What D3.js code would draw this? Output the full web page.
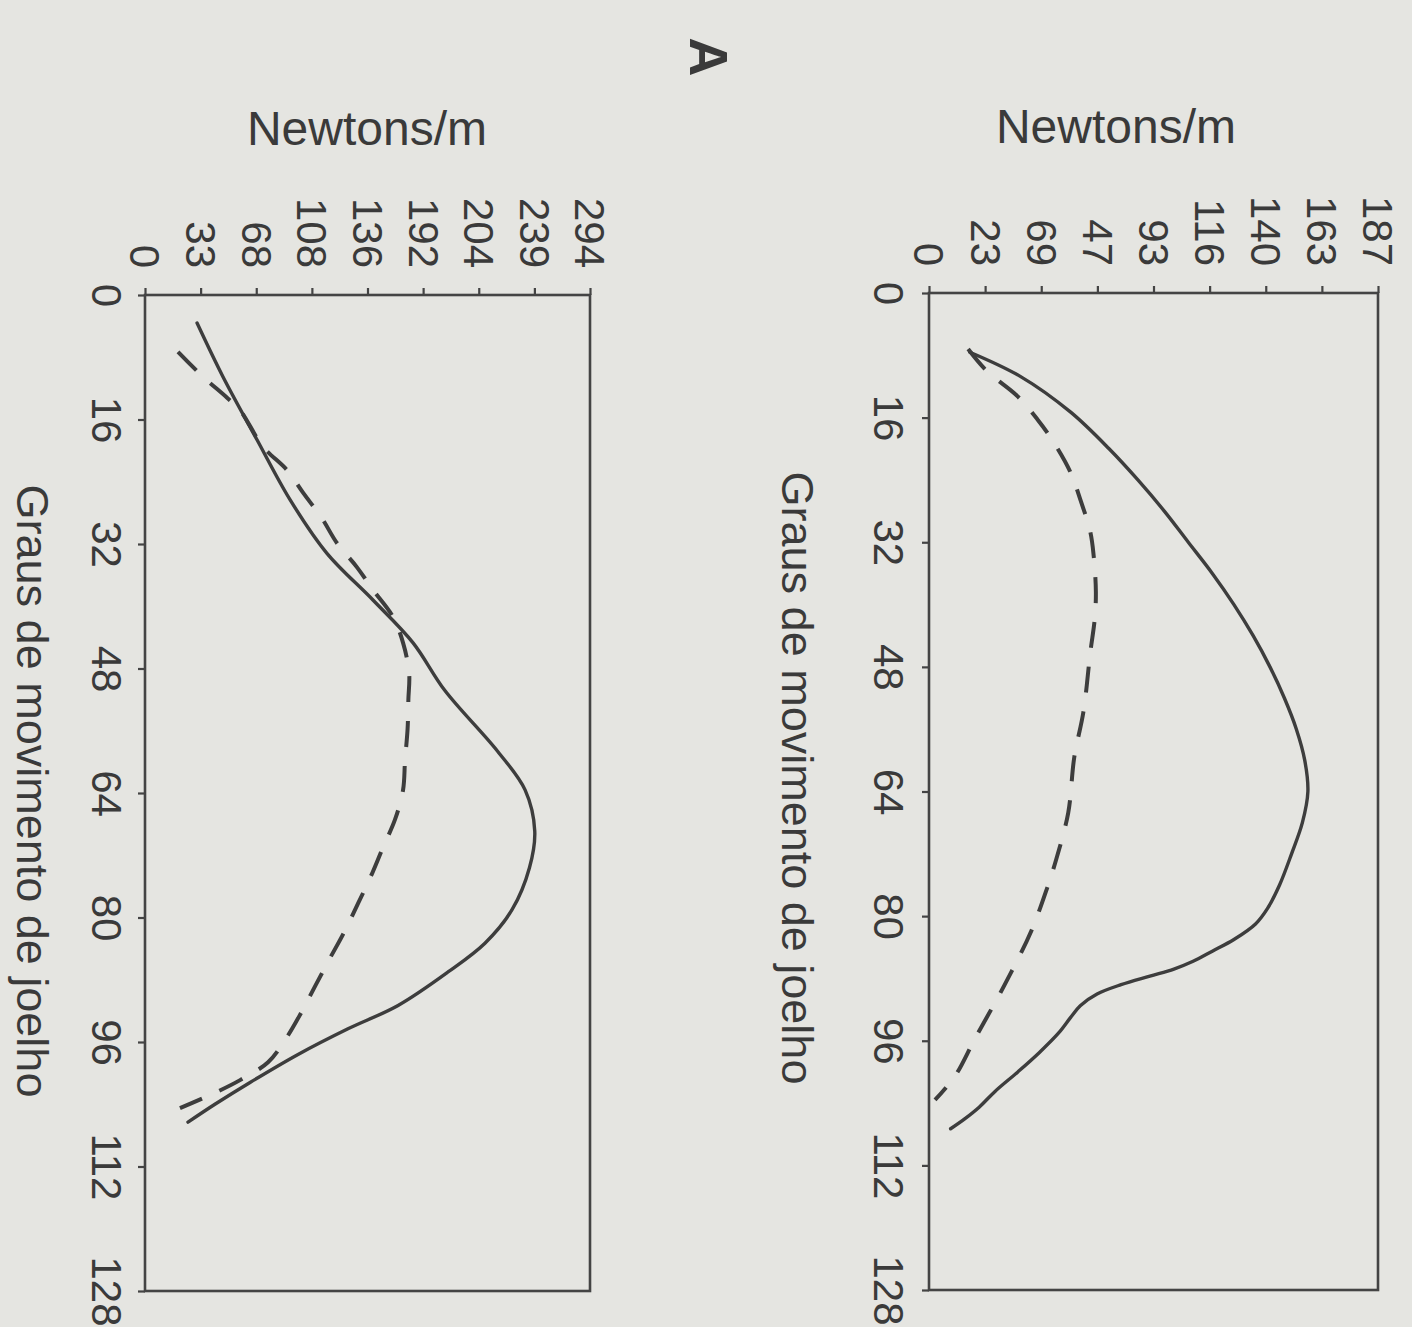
<!DOCTYPE html>
<html>
<head>
<meta charset="utf-8">
<script src="https://cdn.jsdelivr.net/npm/d3@7"></script>
<style>
  html, body { margin: 0; padding: 0; background: #e5e5e1; }
  svg { display: block; }
  text { font-family: "Liberation Sans", Arial, sans-serif; fill: #3a3a3a; }
</style>
</head>
<body>
<script>
// ---- Data (degrees of knee movement, Newtons/m) ----
const degreeTicks = [0, 16, 32, 48, 64, 80, 96, 112, 128];
const rightNewtonLabels = ["0", "23", "69", "47", "93", "116", "140", "163", "187"];
const leftNewtonLabels = ["0", "33", "68", "108", "136", "192", "204", "239", "294"];
const rightNewtonMax = 187;
const leftNewtonMax = 294;

const rightSolid = [[7.6,17],[10.7,38],[15.3,59],[20,75],[24,87],[28,98],[32,108],[36,118],[40,127],[44,135],[48,142],[52,148],[56,153],[60,156.5],[64,157.8],[68,155.5],[72,151],[76,146],[79,141],[81,136],[83,127],[84.5,118],[85.8,110],[86.8,102],[87.7,92],[88.8,80],[90,70],[91.5,63],[93,59],[95,54],[97.5,46],[100,37],[102.5,27.5],[104.5,21],[106,15],[107.3,9]];
const rightDashed = [[7.2,16.3],[10.0,24.0],[13.2,36.7],[16.2,45.1],[19.1,51.8],[23.0,58.9],[26.5,63.0],[30.7,67.2],[33.8,68.6],[38.4,69.5],[41.9,69.0],[46.1,67.2],[53.8,64.3],[59.6,60.5],[66.7,58.0],[72.7,53.0],[76.3,49.3],[81.9,42.6],[88.7,31.7],[95.7,19.2],[100.5,10.9],[103.6,2.5]];
const leftSolid = [[3.6,34.4],[10.5,51.5],[18.6,74.0],[26.3,95.8],[33.2,120.2],[39.2,150.6],[44.7,177.1],[50.8,198.0],[58.7,233.2],[63.6,251.1],[68.9,257.5],[73.6,254.0],[79.0,242.5],[83.3,224.6],[87.0,200.2],[91.3,167.2],[94.3,134.1],[97.6,101.1],[101.2,69.4],[104.0,46.2],[106.3,28.4]];
const leftDashed = [[7.3,21.8],[10.5,38.3],[13.2,54.2],[14.8,62.8],[19.5,78.0],[22.5,93.8],[25.4,104.4],[28.7,116.9],[31.9,126.9],[35.0,140.1],[37.9,150.6],[41.4,163.9],[44.7,170.5],[48.6,174.5],[52.0,174.0],[55.7,173.5],[59.8,171.8],[63.6,170.5],[67.4,165.2],[71.1,157.0],[74.8,149.0],[78.1,141.0],[82.1,131.0],[85.3,122.0],[88.6,113.0],[92.3,103.0],[95.6,93.0],[98.6,81.3],[100.9,62.8],[102.7,44.3],[104.5,23.1]];

const W = 1412, H = 1327;
const ink = "#444";

const svg = d3.select("body").append("svg").attr("width", W).attr("height", H);

// Panel label "A"
svg.append("text")
  .attr("transform", "translate(709,57) rotate(90)")
  .attr("text-anchor", "middle").attr("dy", "0.36em")
  .style("font-size", "54px").style("font-weight", "bold")
  .text("A");

function drawPanel(cfg) {
  const w = cfg.right - cfg.left, h = cfg.bottom - cfg.top;
  const g = svg.append("g").attr("transform", `translate(${cfg.left},${cfg.top})`);
  const xN = d3.scaleLinear().domain([0, cfg.max]).range([0, w]);
  const yD = d3.scaleLinear().domain([0, 128]).range([0, h]);

  // frame
  g.append("rect").attr("width", w).attr("height", h)
    .attr("fill", "none").attr("stroke", ink).attr("stroke-width", 2.6);

  // Newtons axis (top), labels rotated
  const nTicks = d3.range(cfg.labels.length).map(i => i * cfg.max / (cfg.labels.length - 1));
  const topAxis = g.append("g").call(
    d3.axisTop(xN).tickValues(nTicks).tickSize(7).tickFormat((d, i) => cfg.labels[i])
  );
  topAxis.select(".domain").remove();
  topAxis.selectAll("line").attr("stroke", ink).attr("stroke-width", 2.2);
  topAxis.selectAll("text")
    .attr("transform", "rotate(90)")
    .attr("x", cfg.nLabelGap).attr("y", 0).attr("dy", "0.36em")
    .style("text-anchor", "end")
    .style("font-size", "42px").attr("fill", "#3a3a3a");

  // Degrees axis (left), labels rotated
  const leftAxis = g.append("g").call(
    d3.axisLeft(yD).tickValues(degreeTicks).tickSize(7).tickFormat(d3.format("d"))
  );
  leftAxis.select(".domain").remove();
  leftAxis.selectAll("line").attr("stroke", ink).attr("stroke-width", 2.2);
  leftAxis.selectAll("text")
    .attr("transform", "rotate(90)")
    .attr("x", 0).attr("y", cfg.dLabelGap).attr("dy", "0.36em")
    .style("text-anchor", "middle")
    .style("font-size", "42px").attr("fill", "#3a3a3a");

  // curves
  const line = d3.line().x(d => xN(d[1])).y(d => yD(d[0])).curve(d3.curveCatmullRom.alpha(0.5));
  g.append("path").datum(cfg.solid).attr("d", line)
    .attr("fill", "none").attr("stroke", "#3d3d3d").attr("stroke-width", 3.4)
    .attr("stroke-linecap", "round");
  g.append("path").datum(cfg.dashed).attr("d", line)
    .attr("fill", "none").attr("stroke", "#3d3d3d").attr("stroke-width", 4)
    .attr("stroke-dasharray", "26,19");

  // titles
  svg.append("text")
    .attr("x", cfg.titleX).attr("y", cfg.titleY)
    .attr("text-anchor", "middle").style("font-size", "48px")
    .text("Newtons/m");
  svg.append("text")
    .attr("transform", `translate(${cfg.axisTitleX},${cfg.axisTitleY}) rotate(90)`)
    .attr("text-anchor", "middle").style("font-size", "45px")
    .text("Graus de movimento de joelho");
}

drawPanel({
  left: 929, right: 1378, top: 293, bottom: 1290, max: rightNewtonMax,
  labels: rightNewtonLabels, solid: rightSolid, dashed: rightDashed,
  nLabelGap: -27, dLabelGap: 40,
  titleX: 1116, titleY: 143, axisTitleX: 782, axisTitleY: 778
});
drawPanel({
  left: 145, right: 590, top: 295, bottom: 1291, max: leftNewtonMax,
  labels: leftNewtonLabels, solid: leftSolid, dashed: leftDashed,
  nLabelGap: -27, dLabelGap: 38,
  titleX: 367, titleY: 145, axisTitleX: 17, axisTitleY: 791
});
</script>
</body>
</html>
